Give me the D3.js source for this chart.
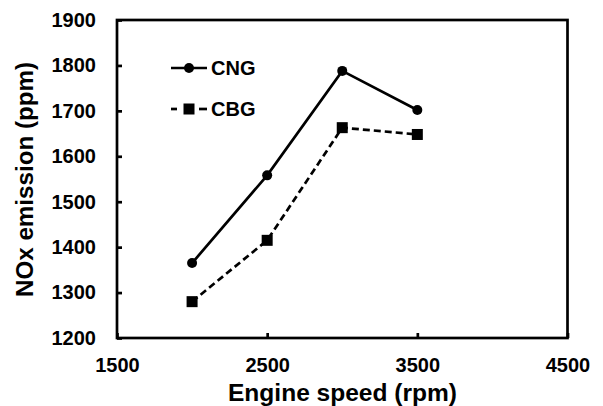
<!DOCTYPE html>
<html><head><meta charset="utf-8">
<script src="https://cdn.jsdelivr.net/npm/d3@7"></script>
<style>body{margin:0;background:#fff}text{font-family:"Liberation Sans",Arial,sans-serif;font-weight:bold;fill:#000}</style>
</head><body><svg id="c" width="603" height="406"></svg>
<script>
const speeds = [2000, 2500, 3000, 3500];
const cng = [1365, 1558, 1788, 1702];
const cbg = [1280, 1415, 1663, 1648];
const xTicks = [1500, 2500, 3500, 4500];
const yTicks = [1200, 1300, 1400, 1500, 1600, 1700, 1800, 1900];

const svg = d3.select("#c");
const L = 117, R = 567.5, T = 20, B = 338;
const x = d3.scaleLinear().domain([1500, 4500]).range([L, R]);
const y = d3.scaleLinear().domain([1200, 1900]).range([B, T]);

const ya = svg.append("g").attr("transform", `translate(${L},0)`)
  .call(d3.axisLeft(y).tickValues(yTicks).tickSize(-5).tickPadding(21).tickFormat(d3.format("d")));
ya.select(".domain").remove();
ya.selectAll("line").attr("stroke", "#000").attr("stroke-width", 2.7);
ya.selectAll("text").style("font-size", "20px").attr("fill", "#000");

const xa = svg.append("g").attr("transform", `translate(0,${B})`)
  .call(d3.axisBottom(x).tickValues(xTicks).tickSize(-5).tickPadding(20).tickFormat(d3.format("d")));
xa.select(".domain").remove();
xa.selectAll("line").attr("stroke", "#000").attr("stroke-width", 2.7);
xa.selectAll("text").style("font-size", "20px").attr("fill", "#000");

svg.append("rect").attr("x", L).attr("y", T).attr("width", R - L).attr("height", B - T)
  .attr("fill", "none").attr("stroke", "#000").attr("stroke-width", 2.7);

const line = d3.line().x((d, i) => x(speeds[i])).y(d => y(d));
svg.append("path").datum(cng).attr("d", line).attr("fill", "none").attr("stroke", "#000").attr("stroke-width", 2.7);
svg.append("path").datum(cbg).attr("d", line).attr("fill", "none").attr("stroke", "#000").attr("stroke-width", 2.7).attr("stroke-dasharray", "7,4");

svg.selectAll(".c").data(cng).enter().append("circle")
  .attr("cx", (d, i) => x(speeds[i])).attr("cy", d => y(d)).attr("r", 5).attr("fill", "#000");
svg.selectAll(".s").data(cbg).enter().append("rect")
  .attr("x", (d, i) => x(speeds[i]) - 5.5).attr("y", d => y(d) - 5.5).attr("width", 11).attr("height", 11).attr("fill", "#000");

const lg = svg.append("g");
lg.append("line").attr("x1", 171).attr("x2", 207).attr("y1", 68).attr("y2", 68).attr("stroke", "#000").attr("stroke-width", 2.7);
lg.append("circle").attr("cx", 189).attr("cy", 68).attr("r", 5).attr("fill", "#000");
lg.append("text").attr("x", 211).attr("y", 68).attr("dy", "0.36em").style("font-size", "20px").text("CNG");
lg.append("line").attr("x1", 171).attr("x2", 177).attr("y1", 109).attr("y2", 109).attr("stroke", "#000").attr("stroke-width", 2.7);
lg.append("line").attr("x1", 199).attr("x2", 207).attr("y1", 109).attr("y2", 109).attr("stroke", "#000").attr("stroke-width", 2.7);
lg.append("rect").attr("x", 183.5).attr("y", 103.5).attr("width", 11).attr("height", 11).attr("fill", "#000");
lg.append("text").attr("x", 211).attr("y", 109).attr("dy", "0.36em").style("font-size", "20px").text("CBG");

svg.append("text").attr("x", 342.5).attr("y", 401).attr("text-anchor", "middle").style("font-size", "23px")
  .attr("textLength", 229).attr("lengthAdjust", "spacingAndGlyphs").text("Engine speed (rpm)");
svg.append("text").attr("transform", `translate(33,179.5) rotate(-90)`).attr("text-anchor", "middle").style("font-size", "23px")
  .attr("textLength", 235).attr("lengthAdjust", "spacingAndGlyphs").text("NOx emission (ppm)");
</script></body></html>
